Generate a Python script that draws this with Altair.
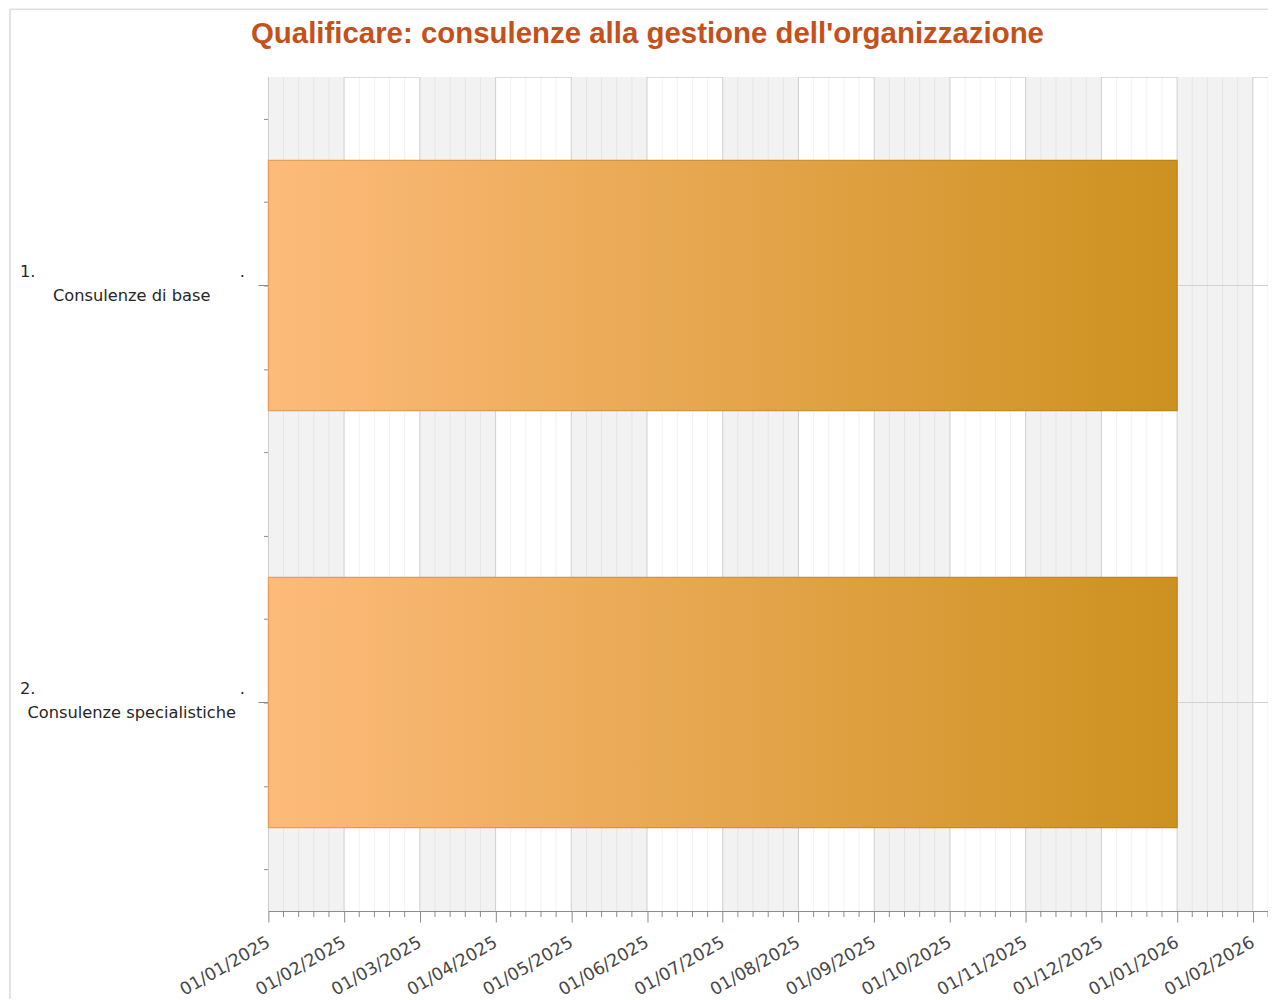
import json
import altair as alt
import numpy as np
import pandas as pd

# ---------------- data ----------------
tick_labels = ["01/01/2025", "01/02/2025", "01/03/2025", "01/04/2025", "01/05/2025",
               "01/06/2025", "01/07/2025", "01/08/2025", "01/09/2025", "01/10/2025",
               "01/11/2025", "01/12/2025", "01/01/2026", "01/02/2026"]
task_numbers = ["1.", "2."]
task_names = ["Consulenze di base", "Consulenze specialistiche"]
task_start = ["01/01/2025", "01/01/2025"]
task_end = ["01/01/2026", "01/01/2026"]
x_extent = 13.2          # axis runs a little past the last labelled month
minor_per_month = 5
slots_per_task = 5       # vertical slots per task row (bar uses slots 1..4)

title_text = "Qualificare: consulenze alla gestione dell'organizzazione"

# ---------------- derived tables ----------------
month_index = {lab: i for i, lab in enumerate(tick_labels)}
n_tasks = len(task_names)
y_total = n_tasks * slots_per_task

tasks_df = pd.DataFrame({
    "num": task_numbers,
    "name": task_names,
    "start": [month_index[s] for s in task_start],
    "end": [month_index[e] for e in task_end],
    "y0": [i * slots_per_task + 1 for i in range(n_tasks)],
    "y1": [i * slots_per_task + 4 for i in range(n_tasks)],
    "mid": [i * slots_per_task + 2.5 for i in range(n_tasks)],
    "dot": ["." for _ in range(n_tasks)],
})

bands_df = pd.DataFrame({"x0": [k for k in range(0, len(tick_labels), 2)]})
bands_df["x1"] = bands_df["x0"] + 1

minor_vals = [k / minor_per_month for k in range(int(x_extent * minor_per_month) + 1)
              if k % minor_per_month != 0]
minor_df = pd.DataFrame({"v": minor_vals})
major_df = pd.DataFrame({"v": list(range(len(tick_labels)))})
title_df = pd.DataFrame({"t": [title_text]})
one_df = pd.DataFrame({"a": [0]})

W, H = 1002, 836
PAD_L, PAD_T, PAD_B = 261, 68, 88
AX = "#8c8c8c"

x_scale = alt.Scale(domain=[0, x_extent], nice=False, zero=False)
y_scale = alt.Scale(domain=[0, y_total], reverse=True, nice=False, zero=False)

x_axis = alt.Axis(
    title=None, values=list(range(len(tick_labels))),
    labelExpr=json.dumps(tick_labels) + "[datum.value]",
    labelAngle=-30, labelAlign="right", labelBaseline="middle",
    labelPadding=19, labelFont="DejaVu Sans", labelFontSize=17.5, labelColor="#474747",
    labelOverlap=False, labelFlush=False, labelBound=False,
    tickSize=11, tickColor=AX, domainColor=AX, grid=False,
)
y_axis = alt.Axis(
    title=None, values=[k + 0.5 for k in range(y_total)], labels=False,
    tickSize=5, tickColor=AX, domainColor=AX, domainWidth=1.5, grid=False,
)


def X(field):
    return alt.X(field, type="quantitative", scale=x_scale, axis=x_axis)


def Y(field):
    return alt.Y(field, type="quantitative", scale=y_scale, axis=y_axis)


bands = alt.Chart(bands_df).mark_rect(color="#f2f2f2").encode(
    x=X("x0"), x2="x1", y=alt.value(0), y2=alt.value(H))

minor_grid = alt.Chart(minor_df).mark_rule(color="#000000", opacity=0.06).encode(
    x=X("v"), y=alt.value(0), y2=alt.value(H))

major_grid = alt.Chart(major_df).mark_rule(color="#cfcfcf").encode(
    x=X("v"), y=alt.value(0), y2=alt.value(H))

hgrid = alt.Chart(tasks_df).mark_rule(color="#d2d2d2").encode(
    y=Y("mid"), x=alt.value(0), x2=alt.value(W))

fill_grad = alt.LinearGradient(
    gradient="linear", x1=0, x2=1, y1=0, y2=0,
    stops=[alt.GradientStop(color="#fdbb7b", offset=0),
           alt.GradientStop(color="#cc911f", offset=1)])
stroke_grad = alt.LinearGradient(
    gradient="linear", x1=0, x2=1, y1=0, y2=0,
    stops=[alt.GradientStop(color="#e6a058", offset=0),
           alt.GradientStop(color="#bb8418", offset=1)])

bars = alt.Chart(tasks_df).mark_rect(fill=fill_grad, stroke=stroke_grad, strokeWidth=1.2).encode(
    x=X("start"), x2="end", y=Y("y0"), y2="y1")

minor_ticks = alt.Chart(minor_df).mark_rule(color=AX).encode(
    x=X("v"), y=alt.value(H), y2=alt.value(H + 6))

cat_ticks = alt.Chart(tasks_df).mark_rule(color=AX).encode(
    y=Y("mid"), x=alt.value(-10), x2=alt.value(0))

lab_font = dict(font="DejaVu Sans", fontSize=16.3, color="#262626")
num_text = alt.Chart(tasks_df).mark_text(align="left", baseline="middle", dy=-14, **lab_font).encode(
    x=alt.value(20 - 8 - PAD_L), y=Y("mid"), text="num")
name_text = alt.Chart(tasks_df).mark_text(align="center", baseline="middle", dy=11, **lab_font).encode(
    x=alt.value(132 - 8 - PAD_L), y=Y("mid"), text="name")
dot_text = alt.Chart(tasks_df).mark_text(align="center", baseline="middle", dy=-14, **lab_font).encode(
    x=alt.value(243 - 8 - PAD_L), y=Y("mid"), text="dot")

title_mark = alt.Chart(title_df).mark_text(
    align="center", baseline="alphabetic", font="Liberation Sans", fontSize=29.5,
    fontWeight="bold", color="#c4501b").encode(
    x=alt.value(649 - 8 - PAD_L), y=alt.value(42 - 8 - PAD_T), text="t")

frame_left = alt.Chart(one_df).mark_rule(color="#d9d9d9", strokeWidth=1.5).encode(
    x=alt.value(10 - 8 - PAD_L), y=alt.value(-PAD_T), y2=alt.value(H + PAD_B))
frame_top = alt.Chart(one_df).mark_rule(color="#e0e0e0", strokeWidth=1.5).encode(
    y=alt.value(-PAD_T), x=alt.value(10 - 8 - PAD_L), x2=alt.value(W + 10))

chart = alt.layer(
    bands, minor_grid, major_grid, hgrid, bars, minor_ticks, cat_ticks,
    num_text, name_text, dot_text, title_mark, frame_left, frame_top,
).properties(
    width=W, height=H,
    autosize=alt.AutoSizeParams(type="none"),
    padding={"left": PAD_L, "top": PAD_T, "right": 0, "bottom": PAD_B},
).configure_view(stroke=None).configure(background="white")

chart.save("out.html", embed_options={"renderer": "svg", "actions": False})
